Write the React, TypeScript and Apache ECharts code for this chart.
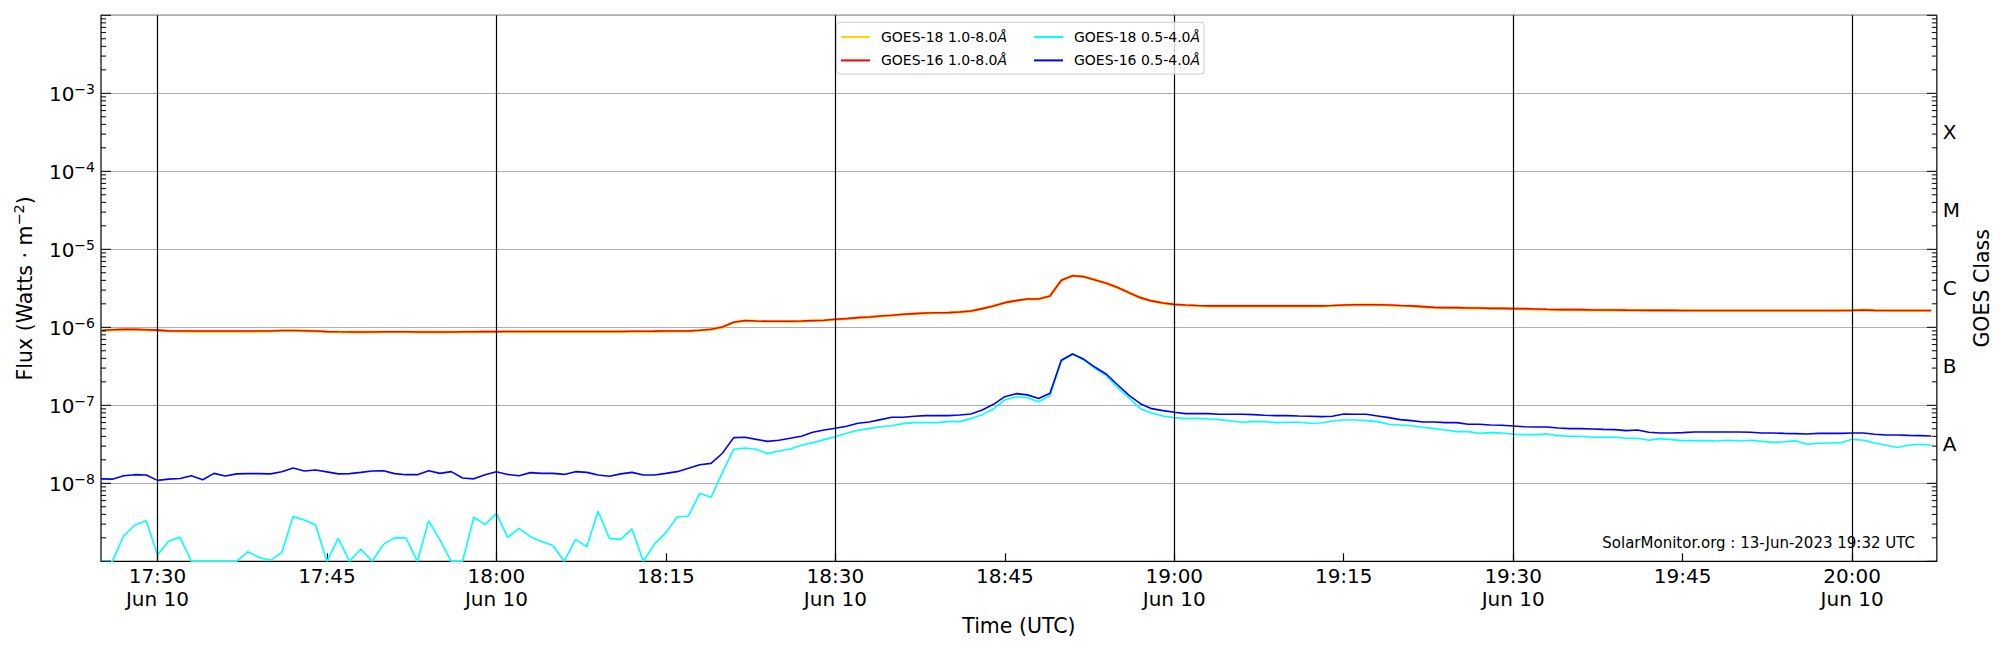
import React, { useEffect, useRef } from 'react';
import * as echarts from 'echarts';

const FONT = 'DejaVu Sans';

// Time range (UTC) of the plot window
const START_UTC = Date.UTC(2023, 5, 10, 17, 25, 0);
const END_UTC = Date.UTC(2023, 5, 10, 20, 7, 30);

// Series names (plotting order: gold, red, cyan, blue)
const seriesNames = ['GOES-18 1.0-8.0Å', 'GOES-16 1.0-8.0Å', 'GOES-18 0.5-4.0Å', 'GOES-16 0.5-4.0Å'];
const seriesColors = ['#ffd700', '#ff0000', '#00ffff', '#0000ff'];

// X tick labels
const tickLabels = ['17:30', '17:45', '18:00', '18:15', '18:30', '18:45', '19:00', '19:15', '19:30', '19:45', '20:00'];
const tickDateLabels = ['Jun 10', '', 'Jun 10', '', 'Jun 10', '', 'Jun 10', '', 'Jun 10', '', 'Jun 10'];

// Y labels
const fluxLabelExponents = [-8, -7, -6, -5, -4, -3];
const goesClasses = ['A', 'B', 'C', 'M', 'X'];
const goesClassExponents = [-7.5, -6.5, -5.5, -4.5, -3.5];

// GOES-16 1.0-8.0 Å, one value per minute from 17:25 UTC
const goes16Long = [
  9.1e-7, 9.3e-7, 9.4e-7, 9.4e-7, 9.3e-7, 9.2e-7, 9.0e-7, 8.97e-7, 8.97e-7, 8.97e-7,
  8.97e-7, 8.97e-7, 8.97e-7, 8.95e-7, 8.95e-7, 8.97e-7, 9.1e-7, 9.1e-7, 9.05e-7, 8.95e-7,
  8.8e-7, 8.75e-7, 8.72e-7, 8.72e-7, 8.72e-7, 8.75e-7, 8.75e-7, 8.75e-7, 8.72e-7, 8.72e-7,
  8.72e-7, 8.7e-7, 8.75e-7, 8.78e-7, 8.8e-7, 8.8e-7, 8.85e-7, 8.85e-7, 8.85e-7, 8.85e-7,
  8.85e-7, 8.85e-7, 8.85e-7, 8.85e-7, 8.85e-7, 8.85e-7, 8.85e-7, 8.88e-7, 8.9e-7, 8.92e-7,
  8.95e-7, 8.95e-7, 8.97e-7, 9.15e-7, 9.43e-7, 1.01e-6, 1.16e-6, 1.22e-6, 1.205e-6, 1.194e-6,
  1.194e-6, 1.194e-6, 1.205e-6, 1.218e-6, 1.229e-6, 1.266e-6, 1.291e-6, 1.33e-6, 1.357e-6, 1.398e-6,
  1.425e-6, 1.468e-6, 1.497e-6, 1.527e-6, 1.535e-6, 1.542e-6, 1.573e-6, 1.62e-6, 1.735e-6, 1.88e-6,
  2.07e-6, 2.2e-6, 2.31e-6, 2.31e-6, 2.52e-6, 4.01e-6, 4.59e-6, 4.46e-6, 4.05e-6, 3.67e-6,
  3.23e-6, 2.78e-6, 2.4e-6, 2.18e-6, 2.05e-6, 1.97e-6, 1.93e-6, 1.9e-6, 1.88e-6, 1.88e-6,
  1.88e-6, 1.88e-6, 1.88e-6, 1.88e-6, 1.88e-6, 1.88e-6, 1.88e-6, 1.88e-6, 1.88e-6, 1.9e-6,
  1.93e-6, 1.95e-6, 1.95e-6, 1.95e-6, 1.93e-6, 1.9e-6, 1.88e-6, 1.84e-6, 1.8e-6, 1.79e-6,
  1.79e-6, 1.77e-6, 1.77e-6, 1.75e-6, 1.75e-6, 1.735e-6, 1.735e-6, 1.72e-6, 1.7e-6, 1.685e-6,
  1.685e-6, 1.685e-6, 1.67e-6, 1.67e-6, 1.67e-6, 1.66e-6, 1.655e-6, 1.65e-6, 1.65e-6, 1.65e-6,
  1.645e-6, 1.64e-6, 1.64e-6, 1.64e-6, 1.64e-6, 1.64e-6, 1.64e-6, 1.64e-6, 1.64e-6, 1.64e-6,
  1.64e-6, 1.64e-6, 1.64e-6, 1.64e-6, 1.645e-6, 1.65e-6, 1.67e-6, 1.65e-6, 1.64e-6, 1.64e-6,
  1.64e-6, 1.64e-6, 1.64e-6,
];

// GOES-18 1.0-8.0 Å (almost coincident with GOES-16)
const goes18Long = [
  9.05e-7, 9.25e-7, 9.35e-7, 9.35e-7, 9.25e-7, 9.15e-7, 8.95e-7, 8.9e-7, 8.85e-7, 8.85e-7,
  8.85e-7, 8.85e-7, 8.85e-7, 8.85e-7, 8.85e-7, 8.9e-7, 9.05e-7, 9.05e-7, 9.0e-7, 8.9e-7,
  8.75e-7, 8.7e-7, 8.68e-7, 8.68e-7, 8.68e-7, 8.7e-7, 8.7e-7, 8.7e-7, 8.68e-7, 8.68e-7,
  8.68e-7, 8.66e-7, 8.7e-7, 8.73e-7, 8.75e-7, 8.75e-7, 8.8e-7, 8.8e-7, 8.8e-7, 8.8e-7,
  8.8e-7, 8.8e-7, 8.8e-7, 8.8e-7, 8.8e-7, 8.8e-7, 8.8e-7, 8.83e-7, 8.85e-7, 8.87e-7,
  8.9e-7, 8.9e-7, 8.93e-7, 9.1e-7, 9.38e-7, 1.005e-6, 1.155e-6, 1.215e-6, 1.2e-6, 1.19e-6,
  1.19e-6, 1.19e-6, 1.2e-6, 1.212e-6, 1.222e-6, 1.26e-6, 1.285e-6, 1.323e-6, 1.35e-6, 1.39e-6,
  1.418e-6, 1.46e-6, 1.49e-6, 1.52e-6, 1.528e-6, 1.535e-6, 1.565e-6, 1.612e-6, 1.727e-6, 1.87e-6,
  2.06e-6, 2.19e-6, 2.3e-6, 2.3e-6, 2.51e-6, 3.99e-6, 4.57e-6, 4.44e-6, 4.03e-6, 3.65e-6,
  3.21e-6, 2.77e-6, 2.39e-6, 2.17e-6, 2.04e-6, 1.96e-6, 1.92e-6, 1.89e-6, 1.87e-6, 1.87e-6,
  1.87e-6, 1.87e-6, 1.87e-6, 1.87e-6, 1.87e-6, 1.87e-6, 1.87e-6, 1.87e-6, 1.87e-6, 1.89e-6,
  1.92e-6, 1.94e-6, 1.94e-6, 1.94e-6, 1.92e-6, 1.89e-6, 1.87e-6, 1.83e-6, 1.79e-6, 1.78e-6,
  1.78e-6, 1.76e-6, 1.76e-6, 1.74e-6, 1.74e-6, 1.725e-6, 1.72e-6, 1.7e-6, 1.68e-6, 1.67e-6,
  1.675e-6, 1.675e-6, 1.66e-6, 1.66e-6, 1.66e-6, 1.65e-6, 1.645e-6, 1.64e-6, 1.64e-6, 1.64e-6,
  1.635e-6, 1.63e-6, 1.63e-6, 1.63e-6, 1.63e-6, 1.63e-6, 1.63e-6, 1.63e-6, 1.63e-6, 1.63e-6,
  1.63e-6, 1.63e-6, 1.63e-6, 1.63e-6, 1.635e-6, 1.64e-6, 1.66e-6, 1.64e-6, 1.63e-6, 1.63e-6,
  1.63e-6, 1.63e-6, 1.63e-6,
];

// GOES-18 0.5-4.0 Å
const goes18Short = [
  1.0e-9, 1.0e-9, 2.11e-9, 2.92e-9, 3.32e-9, 1.21e-9, 1.82e-9, 2.03e-9, 1.0e-9, 1.0e-9,
  1.0e-9, 1.0e-9, 1.0e-9, 1.33e-9, 1.12e-9, 1.03e-9, 1.29e-9, 3.74e-9, 3.39e-9, 2.92e-9,
  1.0e-9, 1.97e-9, 1.0e-9, 1.44e-9, 1.0e-9, 1.65e-9, 2.01e-9, 1.99e-9, 1.0e-9, 3.29e-9,
  1.88e-9, 1.0e-9, 1.0e-9, 3.67e-9, 2.98e-9, 4.08e-9, 2.03e-9, 2.65e-9, 2.07e-9, 1.79e-9,
  1.59e-9, 1.0e-9, 1.91e-9, 1.54e-9, 4.38e-9, 1.97e-9, 1.91e-9, 2.6e-9, 1.0e-9, 1.67e-9,
  2.33e-9, 3.7e-9, 3.81e-9, 7.44e-9, 6.62e-9, 1.37e-8, 2.73e-8, 2.84e-8, 2.73e-8, 2.4e-8,
  2.6e-8, 2.75e-8, 3.07e-8, 3.32e-8, 3.63e-8, 3.96e-8, 4.37e-8, 4.78e-8, 5.02e-8, 5.32e-8,
  5.48e-8, 5.82e-8, 6.0e-8, 6.0e-8, 6.0e-8, 6.18e-8, 6.18e-8, 6.75e-8, 7.59e-8, 8.97e-8,
  1.17e-7, 1.29e-7, 1.25e-7, 1.11e-7, 1.33e-7, 3.7e-7, 4.55e-7, 3.81e-7, 2.95e-7, 2.4e-7,
  1.68e-7, 1.24e-7, 9.06e-8, 7.98e-8, 7.3e-8, 6.95e-8, 6.75e-8, 6.81e-8, 6.68e-8, 6.55e-8,
  6.3e-8, 6.05e-8, 6.18e-8, 6.18e-8, 6.0e-8, 6.05e-8, 6.05e-8, 5.88e-8, 5.94e-8, 6.3e-8,
  6.49e-8, 6.49e-8, 6.36e-8, 6.18e-8, 5.71e-8, 5.6e-8, 5.48e-8, 5.22e-8, 5.02e-8, 4.83e-8,
  4.6e-8, 4.6e-8, 4.38e-8, 4.46e-8, 4.42e-8, 4.25e-8, 4.21e-8, 4.21e-8, 4.29e-8, 4.08e-8,
  4.01e-8, 4.01e-8, 3.89e-8, 3.89e-8, 3.89e-8, 3.78e-8, 3.78e-8, 3.56e-8, 3.74e-8, 3.63e-8,
  3.52e-8, 3.52e-8, 3.52e-8, 3.49e-8, 3.56e-8, 3.49e-8, 3.56e-8, 3.45e-8, 3.35e-8, 3.39e-8,
  3.52e-8, 3.16e-8, 3.26e-8, 3.29e-8, 3.32e-8, 3.66e-8, 3.56e-8, 3.29e-8, 3.07e-8, 2.87e-8,
  3.07e-8, 3.16e-8, 3.07e-8,
];

// GOES-16 0.5-4.0 Å
const goes16Short = [
  1.14e-8, 1.13e-8, 1.25e-8, 1.29e-8, 1.28e-8, 1.09e-8, 1.13e-8, 1.15e-8, 1.25e-8, 1.11e-8,
  1.34e-8, 1.24e-8, 1.32e-8, 1.33e-8, 1.33e-8, 1.32e-8, 1.41e-8, 1.57e-8, 1.44e-8, 1.48e-8,
  1.4e-8, 1.32e-8, 1.33e-8, 1.38e-8, 1.44e-8, 1.45e-8, 1.33e-8, 1.29e-8, 1.29e-8, 1.45e-8,
  1.34e-8, 1.41e-8, 1.17e-8, 1.14e-8, 1.29e-8, 1.41e-8, 1.3e-8, 1.25e-8, 1.37e-8, 1.34e-8,
  1.34e-8, 1.3e-8, 1.41e-8, 1.38e-8, 1.28e-8, 1.23e-8, 1.32e-8, 1.38e-8, 1.28e-8, 1.28e-8,
  1.34e-8, 1.41e-8, 1.56e-8, 1.73e-8, 1.8e-8, 2.43e-8, 3.85e-8, 3.89e-8, 3.66e-8, 3.45e-8,
  3.56e-8, 3.78e-8, 4.01e-8, 4.51e-8, 4.83e-8, 5.07e-8, 5.38e-8, 5.88e-8, 6.11e-8, 6.55e-8,
  7.02e-8, 7.02e-8, 7.23e-8, 7.38e-8, 7.38e-8, 7.38e-8, 7.52e-8, 7.75e-8, 8.71e-8, 1.03e-7,
  1.29e-7, 1.41e-7, 1.36e-7, 1.22e-7, 1.43e-7, 3.78e-7, 4.55e-7, 3.89e-7, 3.07e-7, 2.5e-7,
  1.82e-7, 1.34e-7, 1.05e-7, 9.06e-8, 8.55e-8, 8.13e-8, 7.82e-8, 7.82e-8, 7.82e-8, 7.67e-8,
  7.67e-8, 7.67e-8, 7.59e-8, 7.44e-8, 7.38e-8, 7.38e-8, 7.3e-8, 7.23e-8, 7.16e-8, 7.23e-8,
  7.74e-8, 7.67e-8, 7.67e-8, 7.3e-8, 6.95e-8, 6.55e-8, 6.36e-8, 6.11e-8, 6.11e-8, 6.0e-8,
  6.0e-8, 5.71e-8, 5.71e-8, 5.6e-8, 5.54e-8, 5.43e-8, 5.32e-8, 5.27e-8, 5.27e-8, 5.12e-8,
  5.02e-8, 5.02e-8, 4.97e-8, 4.92e-8, 4.88e-8, 4.73e-8, 4.83e-8, 4.51e-8, 4.42e-8, 4.42e-8,
  4.46e-8, 4.55e-8, 4.55e-8, 4.55e-8, 4.55e-8, 4.55e-8, 4.51e-8, 4.42e-8, 4.42e-8, 4.37e-8,
  4.33e-8, 4.29e-8, 4.37e-8, 4.37e-8, 4.37e-8, 4.42e-8, 4.42e-8, 4.25e-8, 4.17e-8, 4.17e-8,
  4.12e-8, 4.08e-8, 4.04e-8,
];

const seriesValues = [goes18Long, goes16Long, goes18Short, goes16Short];

function labelToUTC(hhmm: string): number {
  const [h, m] = hhmm.split(':').map(Number);
  return Date.UTC(2023, 5, 10, h, m, 0);
}

export default function App() {
  const ref = useRef<HTMLDivElement>(null);

  useEffect(() => {
    document.body.style.margin = '0';
    document.body.style.overflow = 'hidden';
    const chart = echarts.init(ref.current as HTMLDivElement, null, { renderer: 'svg' });

    const minuteTimes = goes16Long.map((_, i) => START_UTC + i * 60000);
    const tickTimes = tickLabels.map(labelToUTC);
    const halfHourTimes = tickTimes.filter((_, i) => tickDateLabels[i] !== '');

    // tick marks for the log flux axis (both spines): [value, length]
    const fluxTicks: number[][] = [];
    for (let e = -9; e <= -2; e++) {
      fluxTicks.push([Math.pow(10, e), 10]);
      if (e < -2) for (let k = 2; k <= 9; k++) fluxTicks.push([k * Math.pow(10, e), 5]);
    }

    const lineSeries = seriesNames.map((name, si) => {
      const s: any = {
        name,
        type: 'line',
        data: minuteTimes.map((t, i) => [t, seriesValues[si][i]]),
        showSymbol: false,
        symbol: 'none',
        color: seriesColors[si],
        itemStyle: { color: seriesColors[si] },
        lineStyle: { color: seriesColors[si], width: si === 0 ? 2.6 : 1.6 },
        emphasis: { disabled: true },
        z: 2,
      };
      if (si === 0) {
        s.markLine = {
          silent: true,
          symbol: ['none', 'none'],
          label: { show: false },
          emphasis: { disabled: true },
          lineStyle: { color: '#000', width: 1.2, type: 'solid', opacity: 1 },
          data: halfHourTimes.map((t) => ({ xAxis: t })),
        };
      }
      return s;
    });

    const legendText = {
      fontSize: 14,
      lineHeight: 16,
      fontFamily: FONT,
      color: '#000',
      padding: [0, 0, 0, 6],
      rich: { i: { fontStyle: 'italic', fontSize: 14, fontFamily: FONT, color: '#000' } },
    };
    const legendCommon = {
      orient: 'vertical',
      top: 29,
      padding: 0,
      itemGap: 7.4,
      itemWidth: 29,
      itemHeight: 2,
      icon: 'rect',
      selectedMode: false,
      z: 60,
      textStyle: legendText,
      formatter: (name: string) => `${name.slice(0, -1)}{i|Å}`,
    };

    const option: any = {
      animation: false,
      textStyle: { fontFamily: FONT },
      grid: {
        left: 101,
        right: 60,
        top: 15.3,
        bottom: 88.7,
        show: true,
        borderColor: '#000',
        borderWidth: 1.2,
        backgroundColor: 'transparent',
      },
      legend: [
        { ...legendCommon, left: 841, data: [seriesNames[0], seriesNames[1]] },
        { ...legendCommon, left: 1034, data: [seriesNames[2], seriesNames[3]] },
      ],
      xAxis: {
        type: 'value',
        min: START_UTC,
        max: END_UTC,
        name: 'Time (UTC)',
        nameLocation: 'middle',
        nameGap: 52.7,
        nameTextStyle: { fontSize: 20.5, lineHeight: 20, color: '#000', fontFamily: FONT },
        axisLine: { show: false },
        axisTick: {
          show: true,
          inside: true,
          length: 8,
          customValues: tickTimes,
          lineStyle: { color: '#000', width: 1.2 },
        },
        axisLabel: {
          customValues: tickTimes,
          fontSize: 20,
          lineHeight: 23,
          margin: 3,
          color: '#000',
          fontFamily: FONT,
          formatter: (v: number) => {
            const i = tickTimes.indexOf(v);
            if (i < 0) return '';
            return tickDateLabels[i] ? `${tickLabels[i]}\n${tickDateLabels[i]}` : tickLabels[i];
          },
        },
        splitLine: { show: false },
      },
      yAxis: [
        {
          type: 'log',
          logBase: 10,
          min: 1e-9,
          max: 1e-2,
          splitNumber: 7,
          position: 'left',
          name: '{n|Flux (Watts · m}{s|−2}{n|)}',
          nameLocation: 'middle',
          nameRotate: 90,
          nameGap: 66,
          nameTextStyle: {
            rich: {
              n: { fontSize: 20.5, lineHeight: 24, verticalAlign: 'bottom', fontFamily: FONT, color: '#000' },
              s: { fontSize: 14.5, lineHeight: 14, verticalAlign: 'top', fontFamily: FONT, color: '#000' },
            },
          },
          axisLine: { show: false },
          axisTick: { show: false },
          axisLabel: {
            margin: 6,
            formatter: (v: number) => {
              const e = Math.round(Math.log10(v));
              return fluxLabelExponents.includes(e) ? `{b|10}{s|−${-e}}` : '';
            },
            rich: {
              b: { fontSize: 20, lineHeight: 22, verticalAlign: 'bottom', fontFamily: FONT, color: '#000' },
              s: { fontSize: 14, lineHeight: 14, verticalAlign: 'top', fontFamily: FONT, color: '#000' },
            },
          },
          splitLine: {
            show: true,
            showMinLine: false,
            showMaxLine: false,
            lineStyle: { color: '#b0b0b0', width: 1 },
          },
        },
        {
          type: 'value',
          min: -9,
          max: -2,
          interval: 0.5,
          position: 'right',
          name: 'GOES Class',
          nameLocation: 'middle',
          nameRotate: 90,
          nameGap: 20,
          nameTextStyle: { fontSize: 20.5, lineHeight: 20, color: '#000', fontFamily: FONT },
          axisLine: { show: false },
          axisTick: { show: false },
          splitLine: { show: false },
          axisLabel: {
            margin: 6,
            fontSize: 20,
            color: '#000',
            fontFamily: FONT,
            formatter: (v: number) => {
              const i = goesClassExponents.indexOf(Math.round(v * 2) / 2);
              return i >= 0 ? goesClasses[i] : '';
            },
          },
        },
      ],
      series: [
        ...lineSeries,
        {
          type: 'custom',
          name: 'flux-ticks',
          xAxisIndex: 0,
          yAxisIndex: 0,
          silent: true,
          clip: false,
          z: 5,
          encode: { x: 0, y: 1 },
          data: fluxTicks.map(([v, len]) => [START_UTC, v, len]),
          renderItem: (params: any, api: any) => {
            const v = api.value(1);
            const len = api.value(2);
            const p = api.coord([START_UTC, v]);
            const cs = params.coordSys;
            const y = p[1];
            const style = { stroke: '#000', lineWidth: 1 };
            return {
              type: 'group',
              children: [
                { type: 'line', shape: { x1: cs.x, y1: y, x2: cs.x + len, y2: y }, style },
                { type: 'line', shape: { x1: cs.x + cs.width - len, y1: y, x2: cs.x + cs.width, y2: y }, style },
              ],
            };
          },
        },
      ],
      graphic: [
        {
          type: 'rect',
          z: 50,
          silent: true,
          shape: { x: 836.7, y: 22.3, width: 367.3, height: 51.7, r: 3 },
          style: { fill: 'rgba(255,255,255,0.8)', stroke: '#cccccc', lineWidth: 1 },
        },
        {
          type: 'text',
          z: 50,
          silent: true,
          x: 1915,
          y: 543,
          style: {
            text: 'SolarMonitor.org : 13-Jun-2023 19:32 UTC',
            fontSize: 15,
            fontFamily: FONT,
            fill: '#000',
            align: 'right',
            verticalAlign: 'middle',
          },
        },
      ],
    };

    chart.setOption(option);
    return () => chart.dispose();
  }, []);

  return <div ref={ref} style={{ width: 2000, height: 650 }} />;
}
